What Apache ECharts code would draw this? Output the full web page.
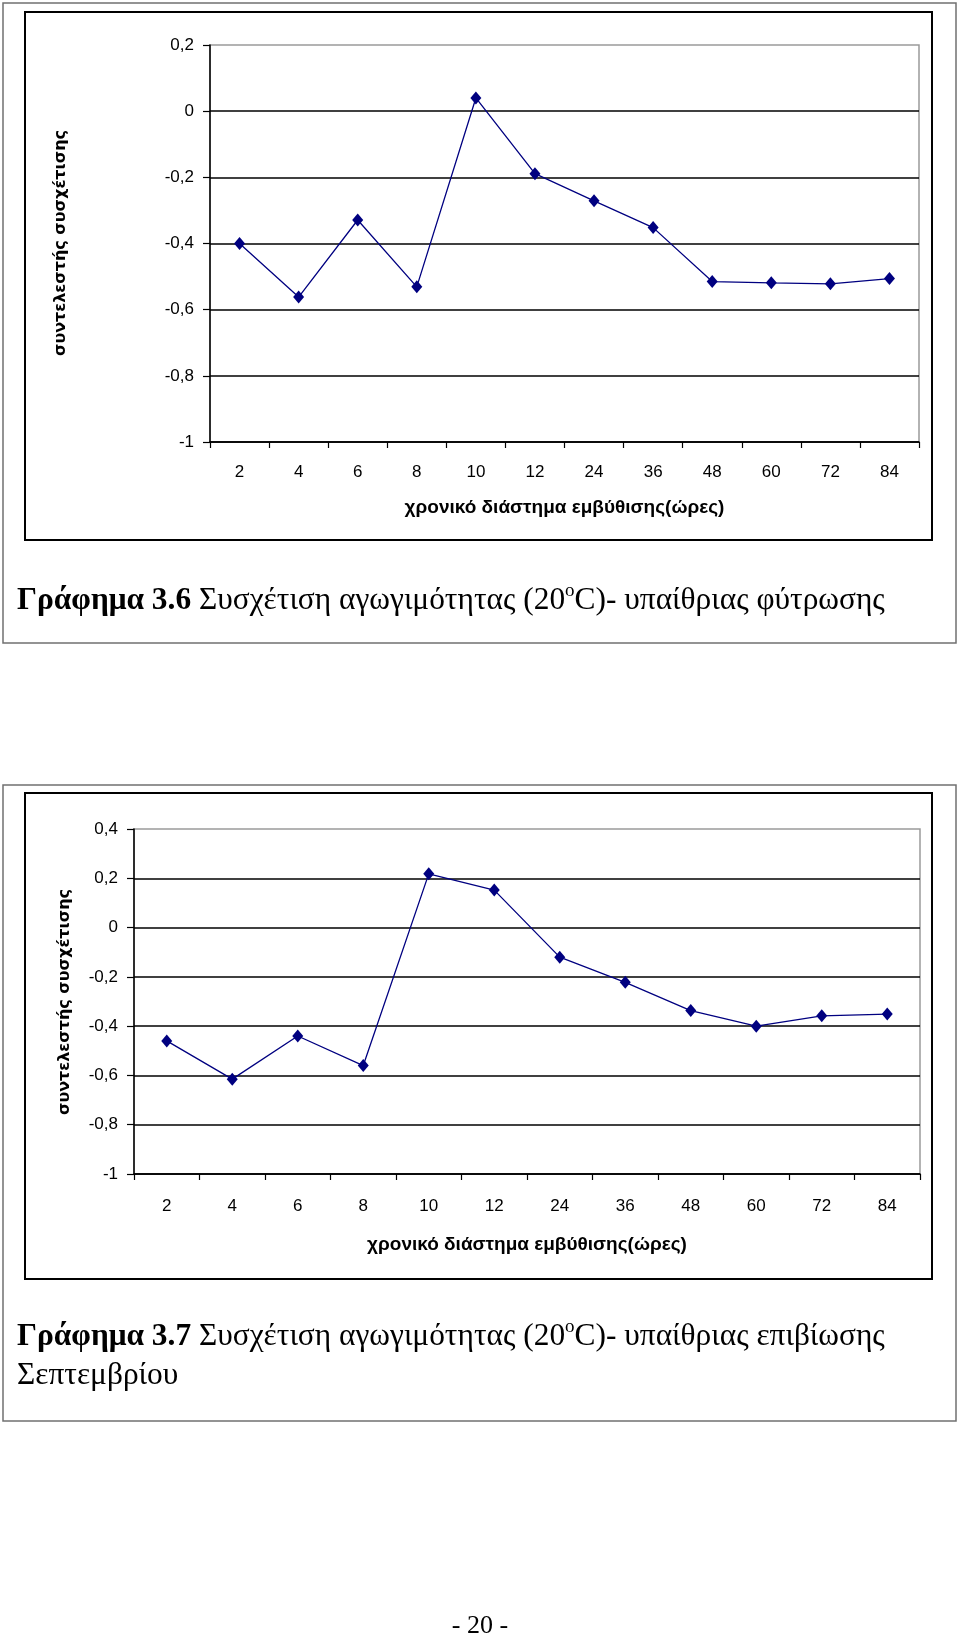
<!DOCTYPE html>
<html>
<head>
<meta charset="utf-8">
<script src="https://cdn.jsdelivr.net/npm/echarts@6/dist/echarts.min.js"></script>
<style>
html,body{margin:0;padding:0;background:#fff;}
#c{width:960px;height:1637px;}
</style>
</head>
<body>
<div id="c"></div>
<script>
// ---- data ----
const categories = ['2','4','6','8','10','12','24','36','48','60','72','84'];
const germinationCorr = [-0.40, -0.562, -0.329, -0.531, 0.04, -0.189, -0.271, -0.352, -0.515, -0.519, -0.522, -0.506];
const survivalCorr = [-0.46, -0.615, -0.44, -0.56, 0.218, 0.152, -0.12, -0.222, -0.337, -0.40, -0.358, -0.351];
const yTicks1 = {min: -1, max: 0.2, interval: 0.2};
const yTicks2 = {min: -1, max: 0.4, interval: 0.2};
const xTitle = 'χρονικό διάστημα εμβύθισης(ώρες)';
const yTitle = 'συντελεστής συσχέτισης';
const caption1 = '{b|Γράφημα 3.6} Συσχέτιση αγωγιμότητας (20{s|o}C)- υπαίθριας φύτρωσης';
const caption2a = '{b|Γράφημα 3.7} Συσχέτιση αγωγιμότητας (20{s|o}C)- υπαίθριας επιβίωσης';
const caption2b = 'Σεπτεμβρίου';
const pageNumber = '- 20 -';

const SANS = 'Liberation Sans, Arial, sans-serif';
const SERIF = 'Liberation Serif, Times New Roman, serif';
const fmt = v => String(Math.round(v * 10) / 10).replace('.', ',');

function xAxis(gi, margin, gap) {
  return {
    type: 'category', gridIndex: gi, data: categories, boundaryGap: true,
    axisLine: {onZero: false, lineStyle: {color: '#000', width: 1.5}},
    axisTick: {show: true, length: 6, lineStyle: {color: '#000', width: 1.2}},
    axisLabel: {color: '#000', fontSize: 17, fontFamily: SANS, margin: margin},
    name: xTitle, nameLocation: 'middle', nameGap: gap,
    nameTextStyle: {color: '#000', fontSize: 19, fontWeight: 'bold', fontFamily: SANS}
  };
}
function yAxis(gi, t) {
  return {
    type: 'value', gridIndex: gi, min: t.min, max: t.max, interval: t.interval,
    axisLine: {show: true, onZero: false, lineStyle: {color: '#000', width: 1.5}},
    axisTick: {show: true, length: 7, lineStyle: {color: '#000', width: 1.2}},
    axisLabel: {color: '#000', fontSize: 17, fontFamily: SANS, margin: 16, formatter: fmt},
    splitLine: {show: true, showMaxLine: false, lineStyle: {color: '#000', width: 1.6}}
  };
}
function series(gi, data) {
  return {
    type: 'line', xAxisIndex: gi, yAxisIndex: gi, data: data,
    symbol: 'diamond', symbolSize: [11, 13],
    lineStyle: {color: '#000080', width: 1.3},
    itemStyle: {color: '#000080'},
    animation: false
  };
}
const capRich = {
  b: {fontWeight: 'bold', fontSize: 31.4, fontFamily: SERIF, lineHeight: 38, fill: '#000'},
  s: {fontSize: 19, fontFamily: SERIF, verticalAlign: 'top', lineHeight: 38, fill: '#000'}
};
function caption(txt, x, y) {
  return {type: 'text', x: x, y: y - 19,
    style: {text: txt, rich: capRich, fill: '#000', fontSize: 31.4, fontFamily: SERIF, lineHeight: 38, align: 'left', verticalAlign: 'top'}};
}

const chart = echarts.init(document.getElementById('c'), null, {renderer: 'canvas'});
chart.setOption({
  backgroundColor: '#fff',
  animation: false,
  grid: [
    {left: 210, top: 45, width: 709, height: 397, show: true, borderColor: '#9a9a9a', borderWidth: 1.5, containLabel: false},
    {left: 134, top: 829, width: 786, height: 345, show: true, borderColor: '#9a9a9a', borderWidth: 1.5, containLabel: false}
  ],
  xAxis: [xAxis(0, 22, 56), xAxis(1, 24, 61)],
  yAxis: [yAxis(0, yTicks1), yAxis(1, yTicks2)],
  series: [series(0, germinationCorr), series(1, survivalCorr)],
  graphic: [
    {type: 'rect', shape: {x: 3, y: 3, width: 953, height: 640}, style: {fill: 'none', stroke: '#707070', lineWidth: 1.5}, z: -1},
    {type: 'rect', shape: {x: 25, y: 12, width: 907, height: 528}, style: {fill: 'none', stroke: '#000', lineWidth: 2}, z: -1},
    {type: 'rect', shape: {x: 3, y: 785, width: 953, height: 636}, style: {fill: 'none', stroke: '#707070', lineWidth: 1.5}, z: -1},
    {type: 'rect', shape: {x: 25, y: 793, width: 907, height: 486}, style: {fill: 'none', stroke: '#000', lineWidth: 2}, z: -1},
    {type: 'text', x: 61, y: 243, rotation: Math.PI / 2,
      style: {text: yTitle, fill: '#000', font: 'bold 16px DejaVu Sans', align: 'center', verticalAlign: 'middle'}},
    {type: 'text', x: 65, y: 1002, rotation: Math.PI / 2,
      style: {text: yTitle, fill: '#000', font: 'bold 16px DejaVu Sans', align: 'center', verticalAlign: 'middle'}},
    caption(caption1, 17, 601),
    caption(caption2a, 17, 1337),
    caption(caption2b, 17, 1376),
    {type: 'text', x: 480, y: 1626,
      style: {text: pageNumber, fill: '#000', fontSize: 26, fontFamily: SERIF, align: 'center', verticalAlign: 'middle'}}
  ]
});
</script>
</body>
</html>
